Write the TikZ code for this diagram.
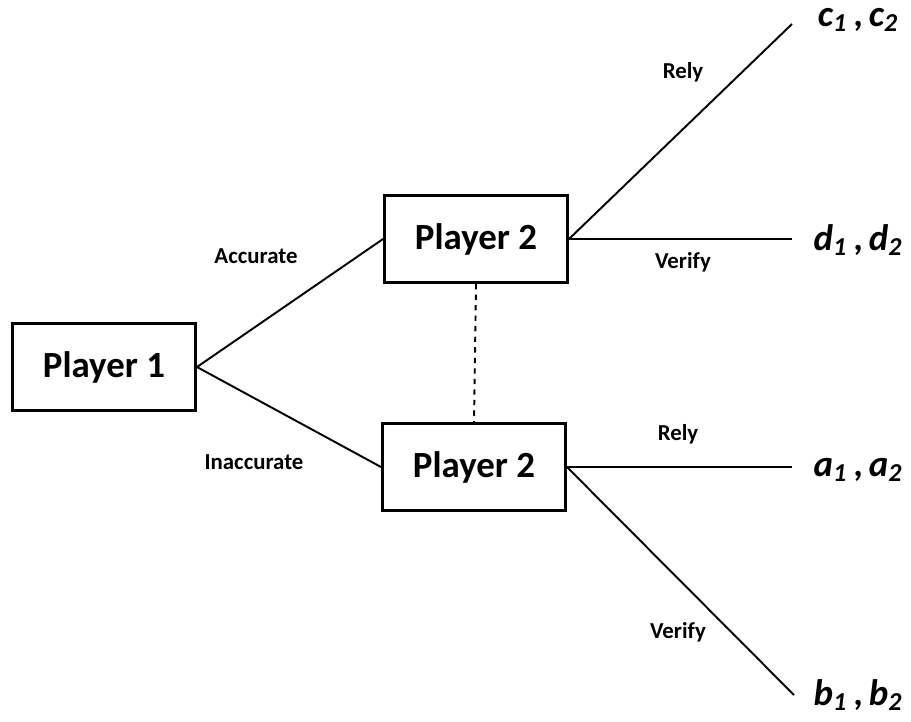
\documentclass[tikz,border=0pt]{standalone}
\usepackage{fontspec}
\setmainfont{Carlito}
\usetikzlibrary{calc}
\def\pay#1{\textit{#1\textsubscript{1}}\,,\,\textit{#1\textsubscript{2}}}
\tikzset{
	player/.style={draw, line width=1.7pt, minimum width=3.66cm, minimum height=1.74cm, font=\bfseries\fontsize{21}{23}\selectfont},
	move/.style={font=\bfseries\fontsize{13}{15}\selectfont},
	payoff/.style={font=\bfseries\fontsize{21}{23}\selectfont},
	branch/.style={line width=1.1pt}
}

\begin{document}
\begin{tikzpicture}[x=0.02cm, y=-0.02cm]
		%%%%% START %%%%%
		\useasboundingbox (0, 0) rectangle (911, 721);
		
		\node[player] (p1) at (104, 367) {Player 1};
		\node[player] (p2a) at (476, 239) {Player 2};
		\node[player] (p2b) at (474, 467) {Player 2};
		
		\coordinate (ec) at (792, 24);
		\coordinate (ed) at (792, 239);
		\coordinate (ea) at (792, 467);
		\coordinate (eb) at (794, 695);
		
		\draw[branch] (p1.east) -- (p2a.west);
		\draw[branch] (p1.east) -- (p2b.west);
		\draw[branch, dashed] (p2a.south) -- (p2b.north);
		
		\draw[branch] (p2a.east) -- (ec);
		\draw[branch] (p2a.east) -- (ed);
		\draw[branch] (p2b.east) -- (ea);
		\draw[branch] (p2b.east) -- (eb);
		
		\node[move] (lacc) at (256, 256) {Accurate};
		\node[move] (linacc) at (254, 462) {Inaccurate};
		\node[move] (lrely1) at (683, 72) {Rely};
		\node[move] (lver1) at (683, 262) {Verify};
		\node[move] (lrely2) at (678, 434) {Rely};
		\node[move] (lver2) at (678, 632) {Verify};
		
		\node[payoff] (oc) at (858, 20) {\pay{c}};
		\node[payoff] (od) at (858, 240) {\pay{d}};
		\node[payoff] (oa) at (858, 470) {\pay{a}};
		\node[payoff] (ob) at (858, 695) {\pay{b}};
		
		%%%%% END %%%%%
	\end{tikzpicture}
\end{document}
